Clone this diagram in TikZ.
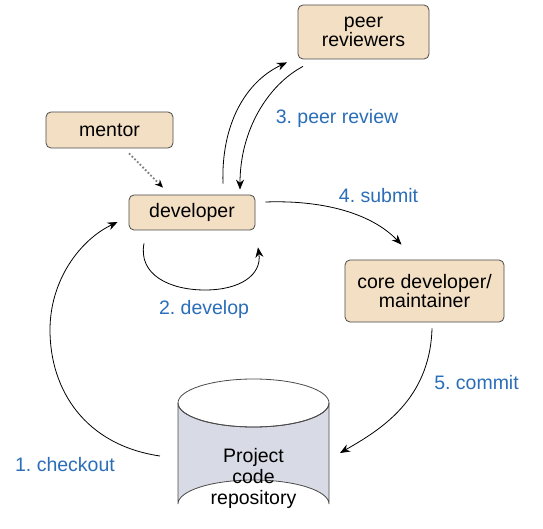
\documentclass[tikz,border=0pt]{standalone}
\usepackage{fontspec}
\setmainfont{Liberation Sans}
\usetikzlibrary{arrows.meta}
\definecolor{boxfill}{HTML}{F3DFC4}
\definecolor{boxline}{HTML}{4A4A4A}
\definecolor{cylfill}{HTML}{D8DAE5}
\definecolor{lblue}{HTML}{2A6DB8}
\frenchspacing
\tikzset{
  box/.style={draw=boxline, fill=boxfill, rounded corners=5pt, line width=0.8pt, align=center, inner sep=0pt, font=\fontsize{19.5}{19}\selectfont},
  lbl/.style={text=lblue, anchor=base, inner sep=0pt, font=\fontsize{19.5}{19}\selectfont},
  flow/.style={draw=black, line width=0.8pt, -{Stealth[length=10pt,width=8pt]}},
}
\begin{document}
\begin{tikzpicture}[x=1pt,y=-1pt]
\useasboundingbox (0,0) rectangle (543,529);
% nodes
\node[box, minimum width=131pt, minimum height=54pt] (peer) at (363.5,32) {peer\\reviewers};
\node[box, minimum width=127pt, minimum height=36pt] (mentor) at (109.5,130) {mentor};
\node[box, minimum width=126pt, minimum height=35pt] (dev) at (192,212.5) {developer};
\node[box, minimum width=159pt, minimum height=62pt] (core) at (424.5,291) {core developer/\\maintainer};
% cylinder
\filldraw[draw=boxline, fill=cylfill, line width=0.8pt] (178,403) -- (178,504) arc[start angle=180,end angle=360,x radius=75.5,y radius=24] -- (329,403) arc[start angle=0,end angle=180,x radius=75.5,y radius=24] -- cycle;
\draw[draw=boxline, line width=0.8pt] (253.5,403) ellipse[x radius=75.5, y radius=24];
\node[align=center, inner sep=0pt, font=\fontsize{19.5}{21}\selectfont] (repo) at (253.5,478) {Project\\code\\repository};
\coordinate (repoL) at (160,456);
\coordinate (repoR) at (340,453);
% connectors
\draw[flow] ([xshift=31pt,yshift=11pt]dev.north) .. controls (221,125) and (245,82) .. ([xshift=-76.5pt,yshift=-3pt]peer.south);
\draw[flow] ([xshift=-60.5pt,yshift=-7pt]peer.south) .. controls (268,85) and (240,130) .. ([xshift=48pt,yshift=5pt]dev.north);
\draw[draw=gray, dotted, line width=1.8pt, -{Stealth[length=8pt,width=7pt,black]}] ([xshift=19.5pt,yshift=-5pt]mentor.south) -- ([xshift=-29pt,yshift=7pt]dev.north);
\draw[flow] ([xshift=10pt,yshift=10.5pt]dev.east) .. controls (320,200) and (370,212) .. ([xshift=-23pt,yshift=15pt]core.north);
\draw[flow] ([xshift=-48pt,yshift=-13pt]dev.south) .. controls (138,275) and (170,290) .. (205,290) .. controls (240,290) and (262,275) .. ([xshift=66pt,yshift=-17pt]dev.south);
\draw[flow] (repoL) .. controls (85,445) and (50,390) .. (50,330) .. controls (50,280) and (80,240) .. ([xshift=-11pt,yshift=-9.5pt]dev.west);
\draw[flow] ([xshift=7.5pt,yshift=-6pt]core.south) .. controls (430,400) and (380,430) .. (repoR);
% labels
\node[lbl] (l3) at (337,124) {3. peer review};
\node[lbl] (l4) at (378.5,203) {4. submit};
\node[lbl] (l2) at (204,314) {2. develop};
\node[lbl] (l5) at (476.5,389) {5. commit};
\node[lbl] (l1) at (65,471) {1. checkout};
\end{tikzpicture}
\end{document}
